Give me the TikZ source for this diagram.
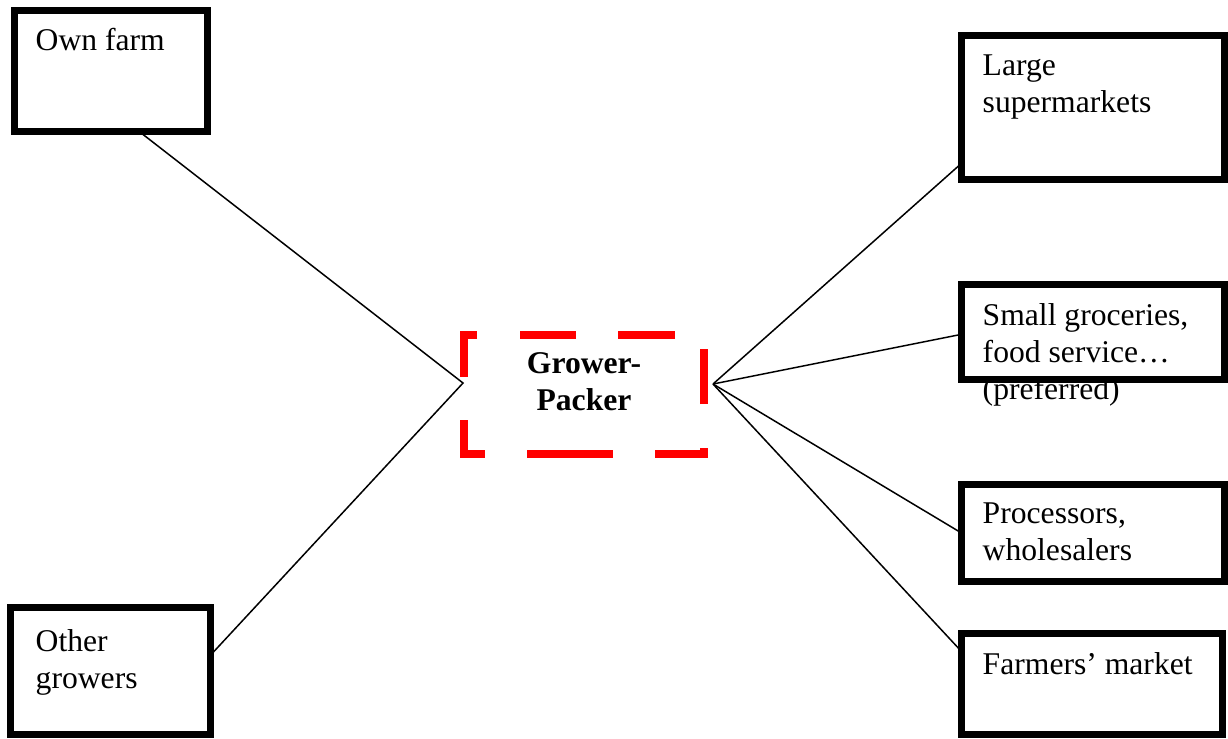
\documentclass[tikz,border=0pt]{standalone}
\usepackage{fontspec}
\setmainfont{Liberation Serif}
\tikzset{
  farmbox/.style={draw,line width=0.07cm,inner sep=0pt,outer sep=0pt},
  boxtext/.style={anchor=base west,inner sep=0pt,align=left,font=\fontsize{9pt}{10.5pt}\selectfont},
  link/.style={line width=0.015cm},
  dashframe/.style={draw=red,line width=0.08cm,
    dash pattern=on 0cm off 0.255cm on 0.55cm off 0.42cm on 0.86cm off 0.42cm on 0.55cm off 0.44cm
      on 0.55cm off 0.43cm on 0.57cm off 0.42cm on 0.56cm off 0.43cm on 0.55cm off 0.175cm}
}
\begin{document}
\begin{tikzpicture}
\useasboundingbox (0,0) rectangle (12.28,-7.38);
% texts first, the frames lie over them (base = last line)
\node[boxtext] (owntext) at (0.35,-0.50) {Own farm};
\node[boxtext] (othertext) at (0.35,-6.88) {Other\\growers};
\node[boxtext] (largetext) at (9.82,-1.12) {Large\\supermarkets};
\node[boxtext] (smalltext) at (9.82,-3.99) {Small groceries,\\food service\ldots\\(preferred)};
\node[boxtext] (proctext) at (9.82,-5.60) {Processors,\\wholesalers};
\node[boxtext] (markettext) at (9.82,-6.74) {Farmers’ market};
\node[boxtext,anchor=base,align=center,font=\fontsize{9pt}{10.5pt}\selectfont\bfseries] (packertext) at (5.84,-4.10) {Grower-\\Packer};
% frames
\node[farmbox,minimum width=1.93cm,minimum height=1.21cm] (own) at (1.11,-0.71) {};
\node[farmbox,minimum width=2.00cm,minimum height=1.27cm] (other) at (1.105,-6.71) {};
\node[farmbox,minimum width=2.63cm,minimum height=1.44cm] (large) at (10.93,-1.075) {};
\node[farmbox,minimum width=2.63cm,minimum height=0.95cm] (small) at (10.93,-3.32) {};
\node[farmbox,minimum width=2.63cm,minimum height=0.97cm] (proc) at (10.93,-5.33) {};
\node[farmbox,minimum width=2.61cm,minimum height=1.01cm] (market) at (10.92,-6.84) {};
\node[inner sep=0pt,outer sep=0pt,minimum width=2.40cm,minimum height=1.19cm] (packer) at (5.84,-3.945) {};
\draw[dashframe] (packer.west) -- (packer.south west) -- (packer.south east) -- (packer.north east) -- (packer.north west) -- cycle;
% links
\coordinate (hubin) at (4.63,-3.83);
\coordinate (hubout) at (7.13,-3.84);
\draw[link] (own.295.6) -- (hubin) -- (other.9.1);
\foreach \p/\a in {large/203.6,small/181.3,proc/180,market/166.6}
\draw[link] (hubout) -- (\p.\a);
\end{tikzpicture}
\end{document}
